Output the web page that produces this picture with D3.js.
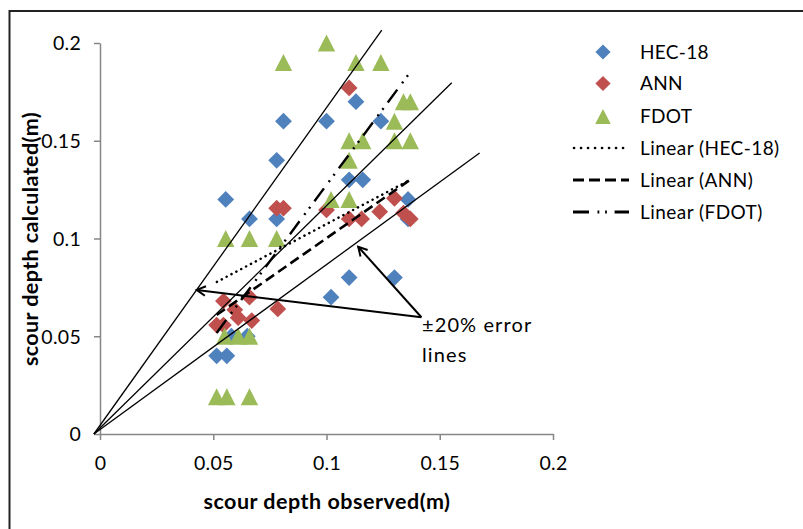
<!DOCTYPE html>
<html><head><meta charset="utf-8">
<script src="https://cdn.jsdelivr.net/npm/d3@7"></script>
<style>body{margin:0;background:#fff}svg{display:block}</style>
</head><body>
<script>
// ---- data ----
const xTicks = [0, 0.05, 0.1, 0.15, 0.2];
const yTicks = [0, 0.05, 0.1, 0.15, 0.2];
const xTickLabels = ["0", "0.05", "0.1", "0.15", "0.2"];
const yTickLabels = ["0", "0.05", "0.1", "0.15", "0.2"];
const seriesNames = ["HEC-18", "ANN", "FDOT"];
const trendNames = ["Linear (HEC-18)", "Linear (ANN)", "Linear (FDOT)"];

const hecX = [0.113, 0.081, 0.100, 0.124, 0.078, 0.110, 0.116, 0.0555, 0.136, 0.066, 0.078, 0.136, 0.110, 0.130, 0.102, 0.058, 0.065, 0.0515, 0.056];
const hecY = [0.170, 0.160, 0.160, 0.160, 0.140, 0.130, 0.130, 0.120, 0.120, 0.110, 0.110, 0.110, 0.080, 0.080, 0.070, 0.050, 0.050, 0.040, 0.040];

const annX = [0.110, 0.078, 0.081, 0.100, 0.110, 0.1155, 0.1235, 0.130, 0.134, 0.137, 0.0545, 0.066, 0.0595, 0.0785, 0.0545, 0.0515, 0.061, 0.067];
const annY = [0.177, 0.1155, 0.1155, 0.1146, 0.110, 0.110, 0.1137, 0.1206, 0.113, 0.110, 0.068, 0.070, 0.0635, 0.064, 0.0557, 0.0557, 0.0595, 0.058];

const fdotX = [0.100, 0.081, 0.113, 0.124, 0.134, 0.137, 0.130, 0.110, 0.116, 0.130, 0.137, 0.110, 0.102, 0.110, 0.0555, 0.066, 0.078, 0.055, 0.061, 0.066, 0.0515, 0.056, 0.066];
const fdotY = [0.200, 0.190, 0.190, 0.190, 0.170, 0.170, 0.160, 0.150, 0.150, 0.150, 0.150, 0.140, 0.120, 0.120, 0.100, 0.100, 0.100, 0.050, 0.050, 0.050, 0.019, 0.019, 0.019];

// trend line end points
const hecTrendX = [0.0516, 0.1368], hecTrendY = [0.0778, 0.1299];
const annTrendX = [0.0515, 0.1364], annTrendY = [0.0609, 0.1296];
const fdotTrendX = [0.0515, 0.1368], fdotTrendY = [0.0517, 0.1848];

// +-20% error lines (drawn from origin)
const errStartX = -0.0027, errStartY = 0;
const errEndX = [0.1244, 0.1553, 0.1676];
const errEndY = [0.2066, 0.1797, 0.1437];

// annotation arrows
const arrowTail = [0.1419, 0.0597];
const arrowHeadX = [0.0427, 0.114];
const arrowHeadY = [0.0737, 0.0958];
const noteLines = ["±20% error", "lines"];

// ---- drawing ----
const W = 803, H = 529;
const colors = ["#4F81BD", "#C0504D", "#9BBB59"];
const font = "Lato, 'Open Sans', sans-serif";

const svg = d3.select("body").append("svg").attr("width", W).attr("height", H);

// frame (top & left edges of the cropped chart border)
svg.append("path").attr("d", `M9.5,${H} L9.5,11 L${W},11`)
  .attr("fill", "none").attr("stroke", "#222").attr("stroke-width", 2);

const x = d3.scaleLinear().domain([0, 0.2]).range([100, 553]);
const y = d3.scaleLinear().domain([0, 0.2]).range([434, 43]);

const axisColor = "#868686";
const xAxis = d3.axisBottom(x).tickValues(xTicks).tickSize(6).tickSizeOuter(0)
  .tickFormat((d, i) => xTickLabels[i]);
const yAxis = d3.axisLeft(y).tickValues(yTicks).tickSize(6).tickSizeOuter(0)
  .tickFormat((d, i) => yTickLabels[i]);

const gx = svg.append("g").attr("transform", "translate(0,434)").call(xAxis);
const gy = svg.append("g").attr("transform", "translate(100,0)").call(yAxis);
[gx, gy].forEach(g => {
  g.select(".domain").attr("stroke", axisColor).attr("stroke-width", 1.5);
  g.selectAll(".tick line").attr("stroke", axisColor).attr("stroke-width", 1.5);
  g.selectAll(".tick text").attr("fill", "#000").style("font-family", font)
    .style("font-size", "19.5px").style("letter-spacing", "0.3px");
});
gx.selectAll(".tick text").attr("dy", null).attr("y", 36);
gy.selectAll(".tick text").attr("x", -19).attr("dy", "0.35em");

// axis titles
svg.append("text").attr("x", 327).attr("y", 509).attr("text-anchor", "middle")
  .style("font-family", font).style("font-weight", "bold").style("font-size", "21.5px")
  .style("letter-spacing", "0.5px")
  .text("scour depth observed(m)");
svg.append("text").attr("transform", "translate(38,239) rotate(-90)").attr("text-anchor", "middle")
  .style("font-family", font).style("font-weight", "bold").style("font-size", "21.5px")
  .style("letter-spacing", "0.4px")
  .text("scour depth calculated(m)");

// markers
const diamond = "M0,-8.4 L8.4,0 L0,8.4 L-8.4,0 Z";
const triangle = "M0,-8.5 L8.7,8.5 L-8.7,8.5 Z";
const series = [
  {xs: hecX, ys: hecY, shape: diamond, c: colors[0]},
  {xs: annX, ys: annY, shape: diamond, c: colors[1]},
  {xs: fdotX, ys: fdotY, shape: triangle, c: colors[2]}
];
series.forEach(s => {
  svg.append("g").selectAll("path").data(s.xs.map((v, i) => [v, s.ys[i]])).join("path")
    .attr("d", s.shape).attr("fill", s.c)
    .attr("transform", d => `translate(${x(d[0])},${y(d[1])})`);
});

// trend lines
const trendStyles = [
  {dash: "0.1,5.4", w: 2.5, cap: "round"},
  {dash: "10,5", w: 2.6, cap: "butt"},
  {dash: "16,8,2,6,2,7", w: 2.4, cap: "butt"}
];
const trends = [[hecTrendX, hecTrendY], [annTrendX, annTrendY], [fdotTrendX, fdotTrendY]];
trends.forEach((t, i) => {
  svg.append("line")
    .attr("x1", x(t[0][0])).attr("y1", y(t[1][0]))
    .attr("x2", x(t[0][1])).attr("y2", y(t[1][1]))
    .attr("stroke", "#000").attr("stroke-width", trendStyles[i].w)
    .attr("stroke-dasharray", trendStyles[i].dash).attr("stroke-linecap", trendStyles[i].cap);
});

// error lines
errEndX.forEach((ex, i) => {
  svg.append("line")
    .attr("x1", x(errStartX)).attr("y1", y(errStartY))
    .attr("x2", x(ex)).attr("y2", y(errEndY[i]))
    .attr("stroke", "#000").attr("stroke-width", 1.3);
});

// arrows
arrowHeadX.forEach((hx, i) => {
  const x1 = x(arrowTail[0]), y1 = y(arrowTail[1]);
  const x2 = x(hx), y2 = y(arrowHeadY[i]);
  svg.append("line").attr("x1", x1).attr("y1", y1).attr("x2", x2).attr("y2", y2)
    .attr("stroke", "#000").attr("stroke-width", 2);
  const a = Math.atan2(y1 - y2, x1 - x2), L = 10, sp = 0.5;
  svg.append("path")
    .attr("d", `M${x2 + L * Math.cos(a - sp)},${y2 + L * Math.sin(a - sp)} L${x2},${y2} L${x2 + L * Math.cos(a + sp)},${y2 + L * Math.sin(a + sp)}`)
    .attr("fill", "none").attr("stroke", "#000").attr("stroke-width", 2);
});

// annotation text
noteLines.forEach((t, i) => {
  svg.append("text").attr("x", 422).attr("y", 332 + i * 30)
    .style("font-family", font).style("font-size", "20px").style("letter-spacing", "1.1px")
    .attr("fill", "#000").text(t);
});

// legend
const lg = svg.append("g");
const markerRows = [52, 83.5, 116.5];
seriesNames.forEach((n, i) => {
  lg.append("path").attr("d", i < 2 ? "M0,-7.6 L7.6,0 L0,7.6 L-7.6,0 Z" : "M0,-7.6 L7.8,7.6 L-7.8,7.6 Z")
    .attr("fill", colors[i]).attr("transform", `translate(603,${markerRows[i]})`);
  lg.append("text").attr("x", 640).attr("y", markerRows[i]).attr("dy", "0.35em")
    .style("font-family", font).style("font-size", "19px").style("letter-spacing", "0.3px")
    .attr("fill", "#000").text(n);
});
const lineRows = [148, 180, 212];
const legendStyles = [
  {dash: "0.1,6.9", w: 2.6, cap: "round"},
  {dash: "11,5", w: 3, cap: "butt"},
  {dash: "16,8.5,1.8,5.8,1.8,7.7", w: 2.8, cap: "butt"}
];
trendNames.forEach((n, i) => {
  lg.append("line").attr("x1", i === 0 ? 574 : 573).attr("x2", 629)
    .attr("y1", lineRows[i]).attr("y2", lineRows[i])
    .attr("stroke", "#000").attr("stroke-width", legendStyles[i].w)
    .attr("stroke-dasharray", legendStyles[i].dash).attr("stroke-linecap", legendStyles[i].cap);
  lg.append("text").attr("x", 640).attr("y", lineRows[i]).attr("dy", "0.35em")
    .style("font-family", font).style("font-size", "19px").style("letter-spacing", "0.45px")
    .attr("fill", "#000").text(n);
});
</script>
</body></html>
